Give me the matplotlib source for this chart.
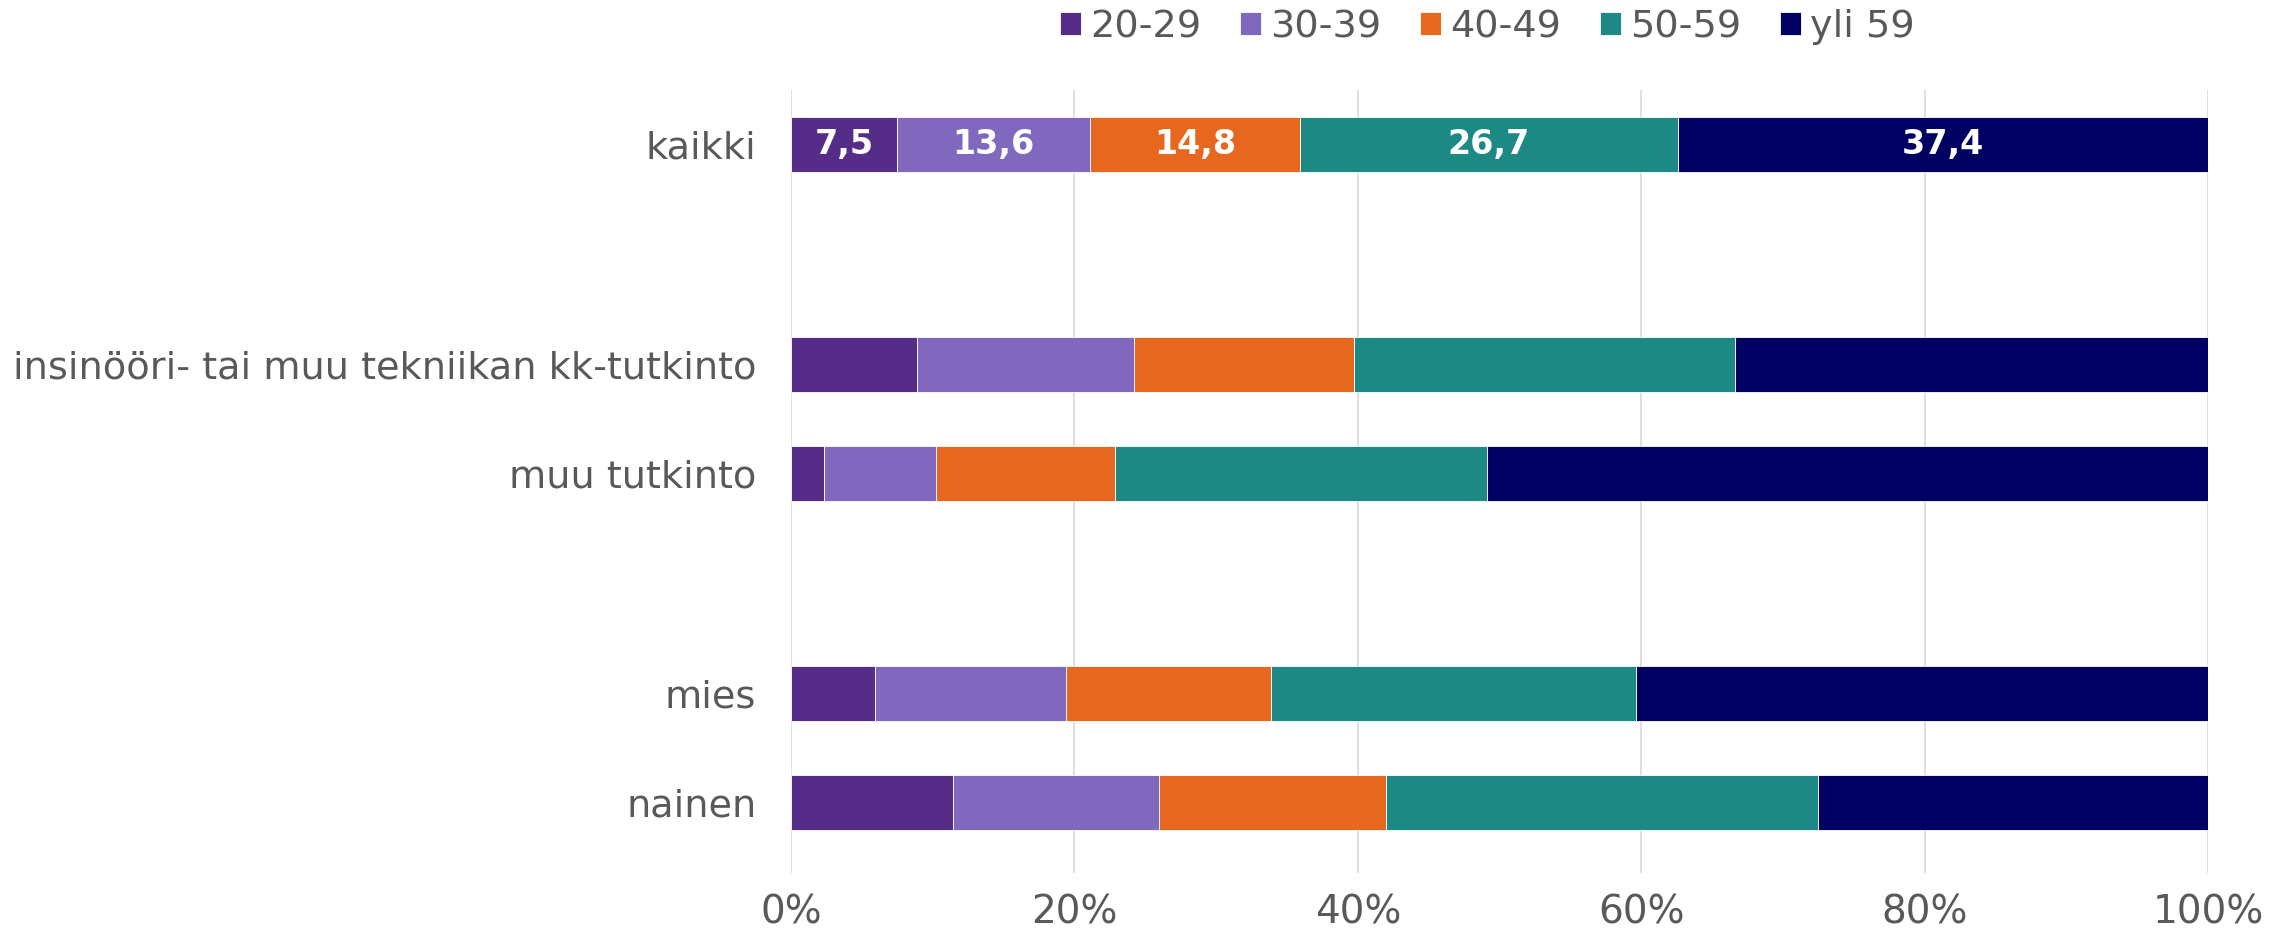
import matplotlib
matplotlib.use('Agg')

import numpy as np
from matplotlib import pyplot as plt

# rows top to bottom, None = empty gap slot
categories = ["kaikki", None, "insinööri- tai muu tekniikan kk-tutkinto",
              "muu tutkinto", None, "mies", "nainen"]
groups = ["20-29", "30-39", "40-49", "50-59", "yli 59"]
colors = ["#552D89", "#7F68BD", "#E8671E", "#1D8985", "#000062"]

# share (%) per age group, same order as non-empty categories
v_2029 = [7.5, 8.9, 2.3, 5.9, 11.4]
v_3039 = [13.6, 15.3, 7.9, 13.5, 14.6]
v_4049 = [14.8, 15.5, 12.7, 14.5, 16.0]
v_5059 = [26.7, 26.9, 26.2, 25.7, 30.5]
v_yli59 = [37.4, 33.4, 50.9, 40.4, 27.5]
series = [v_2029, v_3039, v_4049, v_5059, v_yli59]

grey = "#595959"

fig = plt.figure(figsize=(22.92, 9.31), dpi=100)
ax = fig.add_axes([791 / 2292, (931 - 873) / 931, 1417 / 2292, (873 - 90) / 931])

pos = [i for i, c in enumerate(categories) if c is not None]
labels = [c for c in categories if c is not None]

left = np.zeros(len(pos))
for name, vals, col in zip(groups, series, colors):
    vals = np.array(vals)
    ax.barh(pos, vals, left=left, height=0.5, color=col, label=name,
            edgecolor="white", linewidth=0.6, zorder=3)
    # data labels only on the "kaikki" row
    ax.text(left[0] + vals[0] / 2, pos[0], f"{vals[0]:.1f}".replace(".", ","),
            ha="center", va="center", color="white", fontsize=24,
            fontweight="bold", zorder=4)
    left += vals

ax.set_ylim(6.64, -0.5)
ax.set_xlim(0, 100)
ax.set_yticks(pos)
ax.set_yticklabels(labels, fontsize=27.5, color=grey)
ax.set_xticks(np.arange(0, 101, 20))
ax.set_xticklabels([f"{t}%" for t in range(0, 101, 20)], fontsize=28, color=grey)
ax.tick_params(axis="both", length=0)
ax.tick_params(axis="y", pad=25)
ax.tick_params(axis="x", pad=15)
ax.grid(axis="x", color="#D9D9D9", linewidth=1.2, zorder=0)
for s in ax.spines.values():
    s.set_visible(False)

leg = fig.legend(loc="center", bbox_to_anchor=(0.649, 1 - 27 / 931), ncol=5,
                 frameon=False, fontsize=27.5, handlelength=0.55, handleheight=0.55,
                 handletextpad=0.25, columnspacing=1.0)
for t in leg.get_texts():
    t.set_color(grey)

plt.savefig("out.png", dpi=100)
